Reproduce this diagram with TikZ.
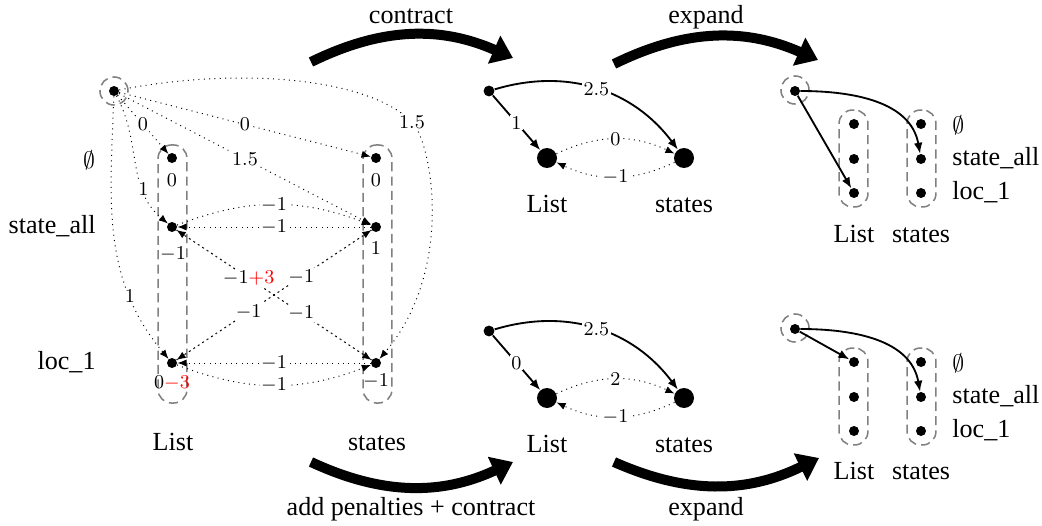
\documentclass[tikz,border=0pt]{standalone}
\usepackage[no-math]{fontspec}
\setmainfont{Liberation Serif}
\usetikzlibrary{arrows.meta}
\begin{document}
\begin{tikzpicture}[x=0.46pt,y=-0.46pt,
 dot/.style={circle,fill=black,inner sep=0pt,minimum size=4.6pt},
 sdot/.style={circle,fill=black,inner sep=0pt,minimum size=5pt},
 bdot/.style={circle,fill=black,inner sep=0pt,minimum size=9.2pt},
 dcirc/.style={circle,draw=gray,dash pattern=on 4.2pt off 2.4pt,line width=0.7pt,minimum size=12.9pt,inner sep=0pt},
 dbox/.style={draw=gray,dash pattern=on 4.2pt off 2.4pt,line width=0.7pt,rounded corners=6.2pt,inner sep=0pt,minimum width=13.3pt},
 ed/.style={dotted,line width=0.45pt,-{Latex[length=4.2pt,width=3.3pt]}},
 sed/.style={line width=0.85pt,-{Latex[length=5pt,width=4pt]}},
 big/.style={line width=4.6pt,-{Triangle[length=9.5pt,width=13.5pt]}},
 lbl/.style={fill=white,inner sep=0.6pt,font=\fontsize{9}{10}\selectfont},
 nv/.style={inner sep=0pt,font=\fontsize{9}{10}\selectfont},
 txt/.style={font=\fontsize{12}{14}\selectfont,inner sep=0pt},
 es/.style={inner sep=0pt,font=\fontsize{10.5}{12}\selectfont}
]
\useasboundingbox (0,0) rectangle (1042,526);

% ===== left graph =====
\node[dbox,minimum height=118.7pt] (BL) at (172.5,274) {};
\node[dbox,minimum height=118.7pt] (BR) at (377.5,274) {};
\node[dcirc] (Sc) at (114,91) {};
\node[dot] (S) at (114,91) {};
\node[dot] (L1) at (172,158) {};
\node[dot] (L2) at (172,227) {};
\node[dot] (L3) at (172,363) {};
\node[dot] (R1) at (376,158) {};
\node[dot] (R2) at (376,227) {};
\node[dot] (R3) at (376,363) {};

\node[es] (rowA) at (89,160) {$\emptyset$};
\node[txt,anchor=base east] (rowB) at (96,233) {state\_all};
\node[txt,anchor=base east] (rowC) at (96,369) {loc\_1};
\node[txt,anchor=base] (colL) at (173,450) {List};
\node[txt,anchor=base] (colR) at (377,450) {states};

\node[nv] (vL1) at (172,180) {$0$};
\node[nv] (vL2) at (173,254) {$-1$};
\node[nv] (vL3) at (172,383) {$0{\color{red}-3}$};
\node[nv] (vR1) at (376,180) {$0$};
\node[nv] (vR2) at (376,248) {$1$};
\node[nv] (vR3) at (376,381) {$-1$};

\draw[ed] (S) -- (L1);
\draw[ed] (S) -- (R1);
\draw[ed] (S) -- (R2);
\draw[ed] (S) to[out=-62,in=140] (L2);
\draw[ed] (S) to[out=-92,in=130] (L3);
\draw[ed] (S) .. controls (230,68) and (365,75) .. (412,122) coordinate (m15) .. controls (432,142) and (455,270) .. (R3);
\draw[ed] (L2) to[bend left=21] (R2);
\draw[ed] (R2) -- (L2);
\draw[ed] (R3) -- (L3);
\draw[ed] (L3) to[bend right=21] (R3);
\draw[ed] (L2) -- (R3);
\draw[ed] (R3) -- (L2);
\draw[ed] (R2) -- (L3);
\draw[ed] (L3) -- (R2);

\path (S) -- node[lbl]{$0$} (L1);
\path (S) -- node[lbl]{$0$} (R1);
\path (S) -- node[lbl]{$1.5$} (R2);
\path (S) to[out=-62,in=140] node[lbl,pos=0.7]{$1$} (L2);
\path (S) to[out=-92,in=130] node[lbl,pos=0.74]{$1$} (L3);
\node[lbl] at (m15) {$1.5$};
\path (L2) to[bend left=21] node[lbl]{$-1$} (R2);
\path (R2) -- node[lbl]{$-1$} (L2);
\path (R3) -- node[lbl]{$-1$} (L3);
\path (L3) to[bend right=21] node[lbl]{$-1$} (R3);
\path (L2) -- node[lbl,pos=0.37]{$-1{\color{red}+3}$} (R3);
\path (R3) -- node[lbl,pos=0.36]{$-1$} (L2);
\path (R2) -- node[lbl,pos=0.36]{$-1$} (L3);
\path (L3) -- node[lbl,pos=0.37]{$-1$} (R2);

% ===== big arrows =====
\coordinate (ca1) at (311,62);
\coordinate (ca2) at (513,58);
\coordinate (ea1) at (614,64);
\coordinate (ea2) at (818,60);
\coordinate (pa1) at (311,462);
\coordinate (pa2) at (513,462);
\coordinate (eb1) at (614,462);
\coordinate (eb2) at (819,458);
\draw[big] (ca1) to[bend left=25] (ca2);
\draw[big] (ea1) to[bend left=25] (ea2);
\draw[big] (pa1) to[bend right=25] (pa2);
\draw[big] (eb1) to[bend right=25] (eb2);
\node[txt,anchor=base] (tc) at (411,23) {contract};
\node[txt,anchor=base] (te) at (706,23) {expand};
\node[txt,anchor=base] (tp) at (411,515) {add penalties + contract};
\node[txt,anchor=base] (te2) at (706,515) {expand};

% ===== middle graphs =====
\foreach \k/\y/\la/\lb in {1/0/1/0, 2/240/0/2}{
  \node[sdot] (a\k) at (489,91+\y) {};
  \node[bdot] (b\k) at (547,158+\y) {};
  \node[bdot] (c\k) at (684,158+\y) {};
  \node[txt,anchor=base] (lb\k) at (547,212+\y) {List};
  \node[txt,anchor=base] (lc\k) at (684,212+\y) {states};
  \draw[sed] (a\k) -- node[lbl]{$\la$} (b\k);
  \draw[sed] (a\k) to[bend left=35] node[lbl]{$2.5$} (c\k);
  \draw[ed] (b\k) to[bend left=25] node[lbl]{$\lb$} (c\k);
  \draw[ed] (c\k) to[bend left=25] node[lbl]{$-1$} (b\k);
}

% ===== right graphs =====
\foreach \k/\y/\ly in {1/0/242, 2/238/479}{
  \node[dbox,minimum height=44.6pt] (BE\k) at (853.5,158.5+\y) {};
  \node[dbox,minimum height=44.6pt] (BF\k) at (921.5,158.5+\y) {};
  \node[dcirc] (dc\k) at (795,90+\y) {};
  \node[dot] (d\k) at (795,91+\y) {};
  \node[dot] (e\k1) at (854,124+\y) {};
  \node[dot] (e\k2) at (854,159+\y) {};
  \node[dot] (e\k3) at (854,193+\y) {};
  \node[dot] (f\k1) at (921,124+\y) {};
  \node[dot] (f\k2) at (921,159+\y) {};
  \node[dot] (f\k3) at (921,193+\y) {};
  \node[es,anchor=west] (ra\k) at (952,125+\y) {$\emptyset$};
  \node[txt,anchor=base west] (rb\k) at (952,165+\y) {state\_all};
  \node[txt,anchor=base west] (rc\k) at (952,199+\y) {loc\_1};
  \node[txt,anchor=base] (rl\k) at (854,\ly) {List};
  \node[txt,anchor=base] (rs\k) at (921,\ly) {states};
  \draw[sed] (d\k) to[out=0,in=100] (f\k2);
}
\draw[sed] (d1) -- (e13);
\draw[sed] (d2) -- (e21);
\end{tikzpicture}
\end{document}
